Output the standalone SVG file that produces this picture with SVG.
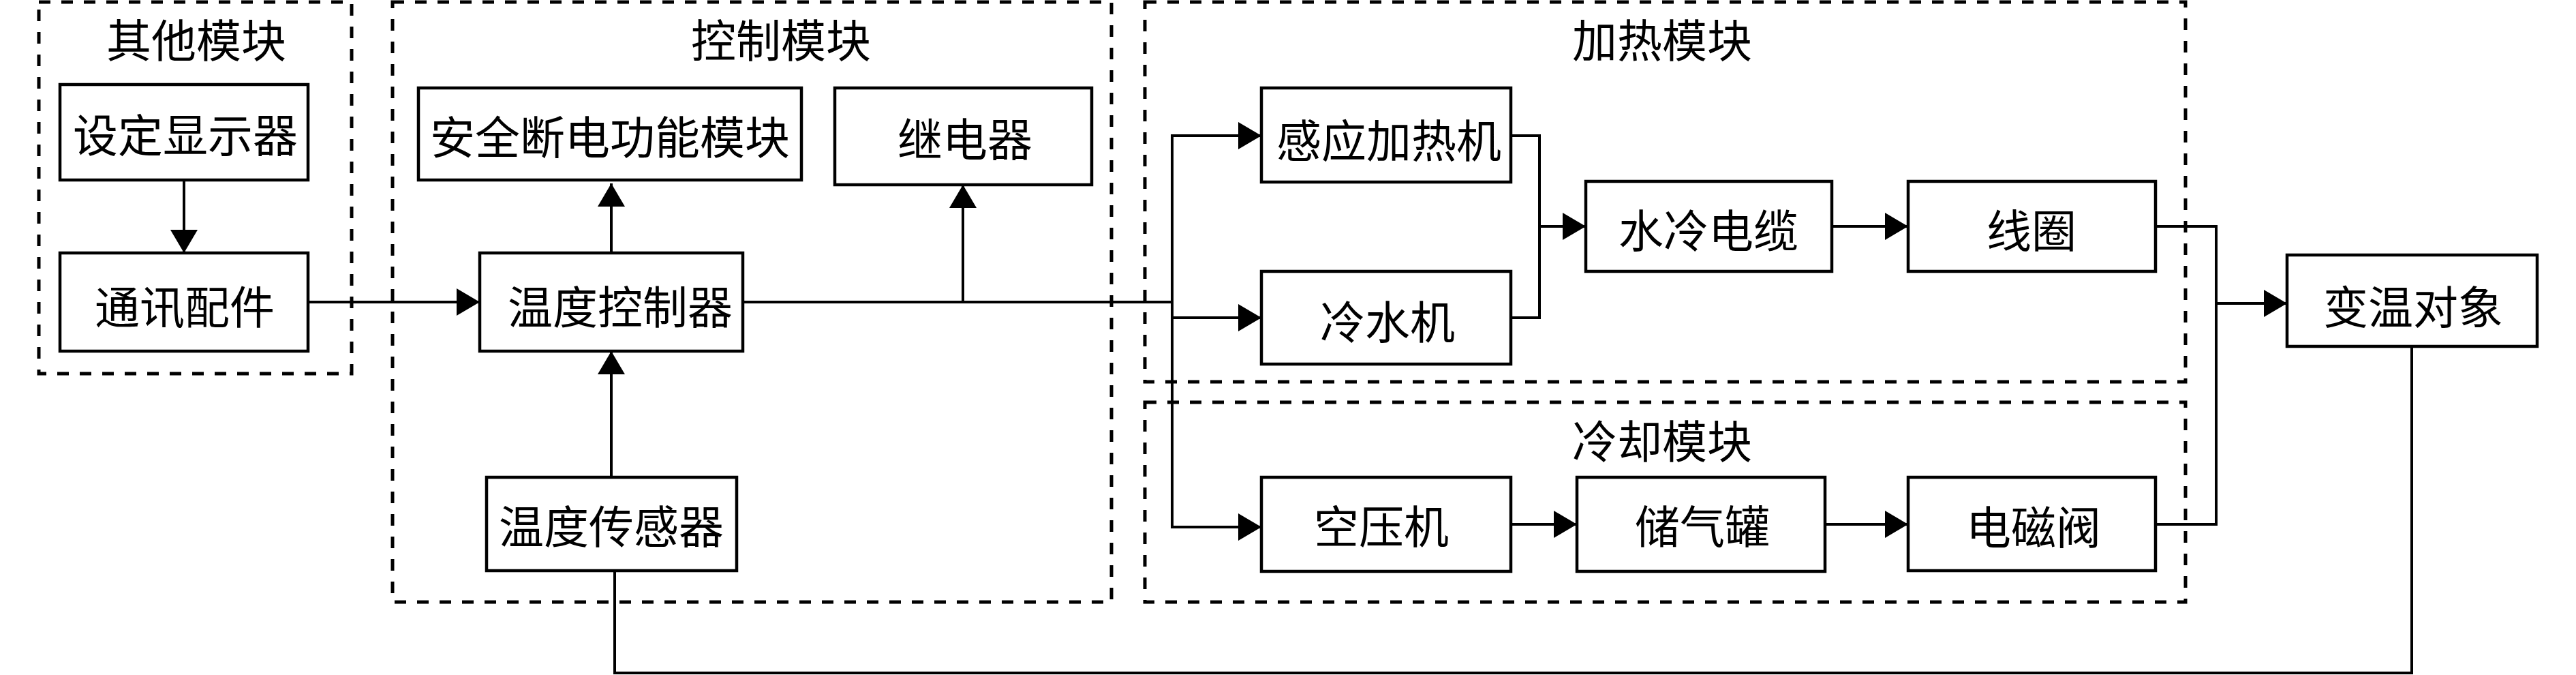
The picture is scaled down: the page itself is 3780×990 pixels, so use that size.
<svg xmlns="http://www.w3.org/2000/svg" width="3780" height="990" viewBox="0 0 3780 990">
<style>
.bg{fill:#ffffff}
.grp{fill:none;stroke:#000;stroke-width:5;stroke-dasharray:17 16}
.box{fill:#fff;stroke:#000;stroke-width:4.5}
.lbl{font-family:'Noto Sans CJK SC','Noto Sans CJK TC',sans-serif;font-size:66px;fill:#000;text-anchor:middle;dominant-baseline:central}
.ln{fill:none;stroke:#000;stroke-width:4}
.ar{fill:none;stroke:#000;stroke-width:4;marker-end:url(#ah)}
</style>
<defs>
<marker id="ah" markerUnits="userSpaceOnUse" markerWidth="34" markerHeight="40" refX="34" refY="20" orient="auto">
<path d="M0,0 L34,20 L0,40 Z" fill="#000"/>
</marker>
</defs>
<rect class="bg" x="0" y="0" width="3780" height="990"/>

<g id="modules">
<g id="other-module"><rect class="grp" x="57" y="3" width="459" height="545"/><text class="lbl" x="288" y="55">其他模块</text></g>
<g id="control-module"><rect class="grp" x="576" y="3" width="1055" height="880"/><text class="lbl" x="1146" y="55">控制模块</text></g>
<g id="heating-module"><rect class="grp" x="1680" y="3" width="1527" height="557"/><text class="lbl" x="2439" y="55">加热模块</text></g>
<g id="cooling-module"><rect class="grp" x="1680" y="590" width="1527" height="293"/><text class="lbl" x="2439" y="643">冷却模块</text></g>
</g>

<g id="connectors">
<line class="ar" x1="270" y1="264" x2="270" y2="371"/>
<line class="ar" x1="452" y1="443" x2="704" y2="443"/>
<line class="ar" x1="897" y1="371" x2="897" y2="269"/>
<line class="ln" x1="1090" y1="443" x2="1720" y2="443"/>
<line class="ar" x1="1413" y1="443" x2="1413" y2="271"/>
<line class="ln" x1="1720" y1="199" x2="1720" y2="773"/>
<line class="ar" x1="1718" y1="199" x2="1851" y2="199"/>
<line class="ar" x1="1720" y1="466" x2="1851" y2="466"/>
<line class="ar" x1="1718" y1="773" x2="1851" y2="773"/>
<polyline class="ln" points="2217,199 2259,199 2259,466 2217,466"/>
<line class="ar" x1="2259" y1="332" x2="2327" y2="332"/>
<line class="ar" x1="2688" y1="332" x2="2800" y2="332"/>
<line class="ar" x1="2217" y1="769" x2="2314" y2="769"/>
<line class="ar" x1="2678" y1="769" x2="2800" y2="769"/>
<polyline class="ln" points="3163,332 3252,332 3252,769 3163,769"/>
<line class="ar" x1="3252" y1="445" x2="3356" y2="445"/>
<polyline class="ln" points="3539,508 3539,987 902,987 902,837"/>
<line class="ar" x1="897" y1="700" x2="897" y2="515"/>
</g>

<g id="n-setdisplay"><rect class="box" x="88" y="124" width="364" height="140"/><text class="lbl" x="272" y="194">设定显示器</text></g>
<g id="n-comm"><rect class="box" x="88" y="371" width="364" height="144"/><text class="lbl" x="271" y="446">通讯配件</text></g>
<g id="n-safety"><rect class="box" x="614" y="129" width="562" height="135"/><text class="lbl" x="895" y="197">安全断电功能模块</text></g>
<g id="n-relay"><rect class="box" x="1225" y="129" width="377" height="142"/><text class="lbl" x="1416" y="200">继电器</text></g>
<g id="n-controller"><rect class="box" x="704" y="371" width="386" height="144"/><text class="lbl" x="910" y="446">温度控制器</text></g>
<g id="n-sensor"><rect class="box" x="714" y="700" width="367" height="137"/><text class="lbl" x="897" y="768">温度传感器</text></g>
<g id="n-induction"><rect class="box" x="1851" y="129" width="366" height="138"/><text class="lbl" x="2038" y="202">感应加热机</text></g>
<g id="n-chiller"><rect class="box" x="1851" y="398" width="366" height="136"/><text class="lbl" x="2036" y="468">冷水机</text></g>
<g id="n-cable"><rect class="box" x="2327" y="266" width="361" height="132"/><text class="lbl" x="2507" y="334">水冷电缆</text></g>
<g id="n-coil"><rect class="box" x="2800" y="266" width="363" height="132"/><text class="lbl" x="2981" y="334">线圈</text></g>
<g id="n-compressor"><rect class="box" x="1851" y="700" width="366" height="138"/><text class="lbl" x="2027" y="768">空压机</text></g>
<g id="n-tank"><rect class="box" x="2314" y="700" width="364" height="138"/><text class="lbl" x="2498" y="768">储气罐</text></g>
<g id="n-valve"><rect class="box" x="2800" y="700" width="363" height="137"/><text class="lbl" x="2984" y="769">电磁阀</text></g>
<g id="n-object"><rect class="box" x="3356" y="374" width="367" height="134"/><text class="lbl" x="3541" y="446">变温对象</text></g>
</svg>
